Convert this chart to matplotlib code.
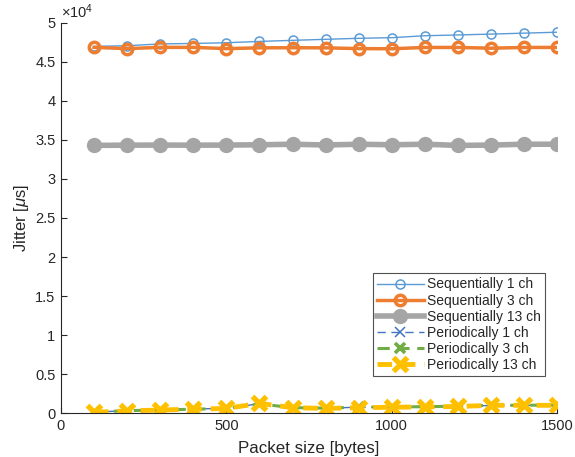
import matplotlib
matplotlib.use("Agg")
import matplotlib.pyplot as plt
from matplotlib.ticker import FuncFormatter

plt.rcParams['font.family'] = ['Liberation Sans', 'DejaVu Sans']
plt.rcParams['mathtext.fontset'] = 'custom'
plt.rcParams['mathtext.rm'] = 'Liberation Sans'
plt.rcParams['mathtext.it'] = 'Liberation Sans:italic'

packet_size = [100, 200, 300, 400, 500, 600, 700, 800, 900, 1000, 1100, 1200, 1300, 1400, 1500]

seq_1ch = [46990, 47070, 47300, 47360, 47450, 47620, 47760, 47890, 48020, 48100, 48350, 48450, 48560, 48680, 48800]
seq_3ch = [46860, 46700, 46860, 46860, 46700, 46800, 46810, 46800, 46700, 46680, 46850, 46850, 46750, 46850, 46850]
seq_13ch = [34300, 34330, 34340, 34330, 34340, 34380, 34450, 34350, 34450, 34380, 34450, 34300, 34340, 34450, 34450]
per_1ch = [150, 300, 420, 520, 620, 1200, 720, 650, 750, 780, 830, 880, 980, 1000, 1020]
per_3ch = [130, 320, 400, 500, 600, 1180, 700, 640, 760, 800, 820, 900, 990, 1010, 1030]
per_13ch = [100, 280, 400, 500, 600, 1250, 700, 600, 700, 750, 800, 850, 1000, 1000, 1000]

c_blue = '#5B9BD5'
c_orange = '#ED7D31'
c_gray = '#A5A5A5'
c_blue2 = '#4472C4'
c_green = '#70AD47'
c_yellow = '#FFC000'

fig = plt.figure(figsize=(5.75, 4.57), dpi=100)
ax = fig.add_axes([0.106, 0.096, 0.863, 0.854])

ax.plot(packet_size, seq_1ch, '-', color=c_blue, lw=1.0, marker='o', ms=6.5,
        mfc='none', mec=c_blue, mew=1.1, label='Sequentially 1 ch')
ax.plot(packet_size, seq_3ch, '-', color=c_orange, lw=2.5, marker='o', ms=7.5,
        mfc='none', mec=c_orange, mew=2.5, label='Sequentially 3 ch')
ax.plot(packet_size, seq_13ch, '-', color=c_gray, lw=4, marker='o', ms=9,
        mfc=c_gray, mec=c_gray, mew=2, label='Sequentially 13 ch')
ax.plot(packet_size, per_1ch, linestyle=(0, (6, 4)), color=c_blue2, lw=1.0, marker='x', ms=6.5,
        mew=1.1, label='Periodically 1 ch')
ax.plot(packet_size, per_3ch, linestyle=(0, (4, 2.5)), color=c_green, lw=2.2, marker='x', ms=7.5,
        mew=2.6, label='Periodically 3 ch')
ax.plot(packet_size, per_13ch, linestyle=(0, (3, 1.8)), color=c_yellow, lw=3.5, marker='x', ms=10,
        mew=3.8, label='Periodically 13 ch')

ax.set_xlim(0, 1500)
ax.set_ylim(0, 50000)
ax.set_xticks([0, 500, 1000, 1500])
ax.set_yticks([i * 5000 for i in range(11)])
ax.yaxis.set_major_formatter(FuncFormatter(lambda v, p: '%g' % (v / 1e4)))

for s in ['top', 'right']:
    ax.spines[s].set_visible(False)
for s in ['left', 'bottom']:
    ax.spines[s].set_color('#262626')
    ax.spines[s].set_linewidth(0.8)
ax.tick_params(direction='in', length=4, width=0.8, colors='#262626', labelsize=10.5, pad=4)
for lab in ax.get_xticklabels() + ax.get_yticklabels():
    lab.set_color('#262626')

ax.text(0.0, 1.005, r'$\times10^4$', transform=ax.transAxes, fontsize=10.5,
        color='#262626', ha='left', va='bottom')

ax.set_xlabel('Packet size [bytes]', fontsize=12.2, color='#262626', labelpad=6)
ax.set_ylabel(r'Jitter [$\mu$s]', fontsize=12, color='#262626', labelpad=3)

leg = ax.legend(loc='lower right', bbox_to_anchor=(0.975, 0.095), fontsize=10,
                frameon=True, fancybox=False, edgecolor='#262626', handlelength=3.4,
                handletextpad=0.2, borderpad=0.3, labelspacing=0.15, borderaxespad=0)
leg.get_frame().set_linewidth(0.8)
for t in leg.get_texts():
    t.set_color('#262626')

fig.savefig('out.png', dpi=100)
